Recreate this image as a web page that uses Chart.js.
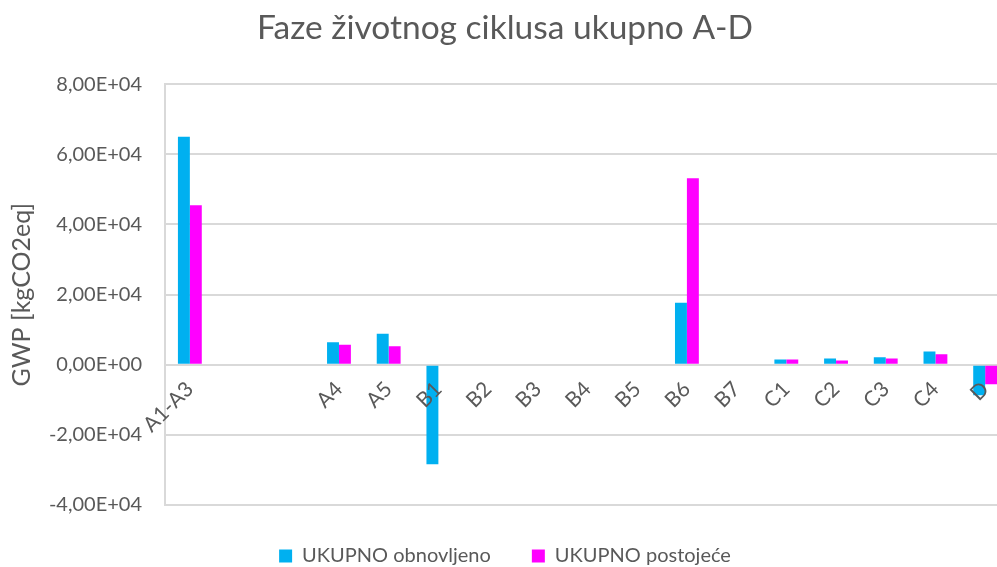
<!DOCTYPE html>
<html>
<head>
<meta charset="utf-8">
<script src="https://cdn.jsdelivr.net/npm/chart.js@4"></script>
<style>
    html, body { margin: 0; padding: 0; background: #fff; overflow: hidden; }
    #okvir { position: relative; width: 1010px; height: 576px; }
</style>
</head>
<body>
<div id="okvir"><canvas id="grafikFaze"></canvas></div>
<script>
// faze životnog ciklusa (dva prazna mjesta iza A1-A3)
const faze = ['A1-A3', '', '', 'A4', 'A5', 'B1', 'B2', 'B3', 'B4', 'B5', 'B6', 'B7', 'C1', 'C2', 'C3', 'C4', 'D'];
const obnovljeno = [65000, null, null, 6400, 8800, -28400, 0, 0, 0, 0, 17700, 0, 1500, 1800, 2100, 3800, -8700];
const postojece = [45500, null, null, 5700, 5300, 0, 0, 0, 0, 0, 53200, 0, 1500, 1200, 1800, 3000, -5600];
const osY = { min: -40000, max: 80000, korak: 20000 };

const siva = '#595959';
const linija = '#d9d9d9';
const font = 'Lato';

// 80000 -> "8,00E+04"
function eksponent(v) {
    let [m, e] = v.toExponential(2).split('e');
    let znak = e[0] === '-' ? '-' : '+';
    let broj = e.replace(/[+-]/, '').padStart(2, '0');
    return m.replace('.', ',') + 'E' + znak + broj;
}

let ctx = document.getElementById('grafikFaze').getContext('2d');
new Chart(ctx, {
    type: 'bar',
    data: {
        labels: faze,
        datasets: [{
            label: 'UKUPNO obnovljeno',
            data: obnovljeno,
            backgroundColor: '#00b0f0'
        }, {
            label: 'UKUPNO postojeće',
            data: postojece,
            backgroundColor: '#ff00ff'
        }]
    },
    options: {
        responsive: true,
        maintainAspectRatio: false,
        animation: false,
        datasets: {
            bar: { categoryPercentage: 0.48, barPercentage: 1.0 }
        },
        layout: { padding: 0 },
        scales: {
            x: {
                position: { y: 0 },
                offset: true,
                grid: { display: false },
                border: { color: linija, width: 2 },
                ticks: {
                    z: 1,
                    autoSkip: false,
                    maxRotation: 45,
                    minRotation: 45,
                    padding: 4,
                    color: siva,
                    font: { family: font, size: 21 }
                }
            },
            y: {
                min: osY.min,
                max: osY.max,
                afterFit: (skala) => { skala.width = 165; },
                grid: { color: linija, lineWidth: 2, drawTicks: false },
                border: { color: linija, width: 2 },
                ticks: {
                    stepSize: osY.korak,
                    padding: 23,
                    color: siva,
                    font: { family: font, size: 20 },
                    callback: (v) => eksponent(v)
                },
                title: {
                    display: true,
                    text: 'GWP [kgCO2eq]',
                    color: siva,
                    font: { family: font, size: 25 },
                    padding: { top: 7, bottom: 0 }
                }
            }
        },
        plugins: {
            title: {
                display: true,
                text: 'Faze životnog ciklusa ukupno A-D',
                color: siva,
                font: { family: font, size: 33.5, weight: 'normal' },
                padding: { top: 8, bottom: 36 }
            },
            legend: {
                position: 'bottom',
                labels: {
                    boxWidth: 13,
                    boxHeight: 13,
                    padding: 41,
                    color: siva,
                    font: { family: font, size: 20 }
                }
            },
            tooltip: { enabled: false }
        }
    }
});
</script>
</body>
</html>
